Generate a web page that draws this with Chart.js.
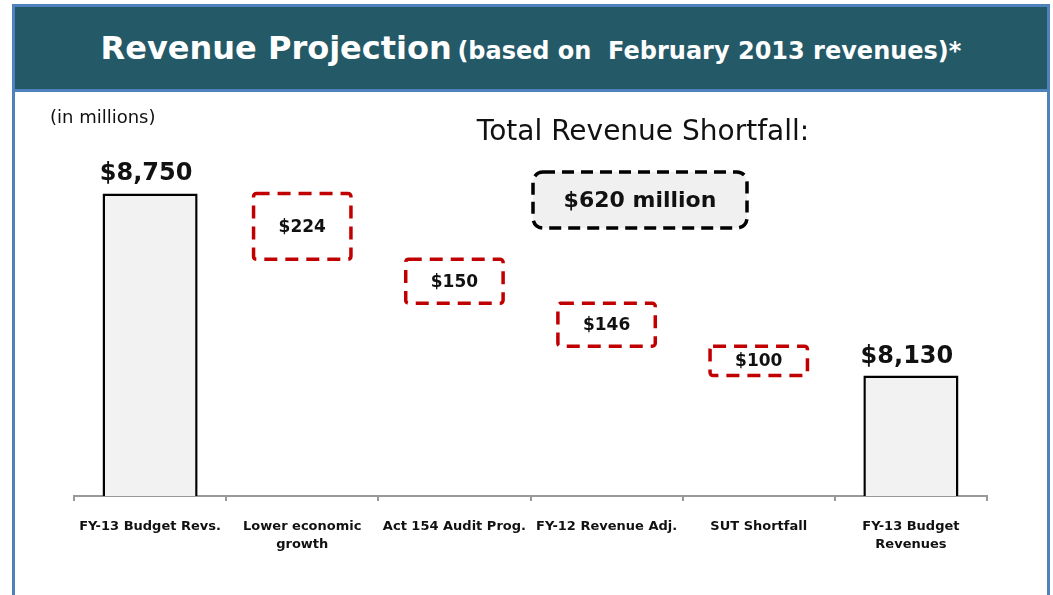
<!DOCTYPE html>
<html>
<head>
<meta charset="utf-8">
<script src="https://cdn.jsdelivr.net/npm/chart.js@4"></script>
<style>
  html, body { margin: 0; padding: 0; background: #fff; }
  body { width: 1053px; height: 595px; position: relative; overflow: hidden; font-family: 'DejaVu Sans', sans-serif; }
  .frame { position: absolute; left: 12px; top: 4px; width: 1032px; height: 600px; border: 3px solid #4F81BD; border-bottom: none; }
  .titlebar { position: absolute; left: 15px; top: 7px; width: 1032px; height: 82px; background: #245A67; border-bottom: 3px solid #4F81BD;
              color: #fff; font-weight: bold; text-align: center; line-height: 82px; white-space: nowrap; }
  .titlebar .big { font-size: 32px; }
  .titlebar .small { font-size: 24px; }
  .units { position: absolute; left: 50px; top: 106px; font-size: 18px; color: #111; }
  .shortfall { position: absolute; left: 393px; width: 500px; top: 114px; font-size: 28px; text-align: center; color: #111; }
  .totalbox { position: absolute; left: 531px; top: 170px; width: 218px; height: 60px; }
  .totalbox svg { position: absolute; left: 0; top: 0; }
  .totalbox span { position: absolute; left: 0; top: 0; width: 218px; line-height: 60px; text-align: center;
                   font-size: 22px; font-weight: bold; color: #111; }
  #chart { position: absolute; left: 0; top: 0; }
</style>
</head>
<body>
<div class="frame"></div>
<canvas id="chart" width="1053" height="595"></canvas>
<div class="titlebar"><span class="big">Revenue Projection</span> <span class="small">(based on&nbsp; February 2013 revenues)*</span></div>
<div class="units">(in millions)</div>
<div class="shortfall">Total Revenue Shortfall:</div>
<div class="totalbox">
  <svg width="218" height="60"><rect x="2" y="2" width="214" height="56" rx="10" ry="10" fill="#F0F0F0" stroke="#000" stroke-width="3.5" stroke-dasharray="12 7"/></svg>
  <span>$620 million</span>
</div>
<script>
// categories and values (in millions)
const categories = [
    'FY-13 Budget Revs.',
    ['Lower economic', 'growth'],
    'Act 154 Audit Prog.',
    'FY-12 Revenue Adj.',
    'SUT Shortfall',
    ['FY-13 Budget', 'Revenues']
];
const startTotal = 8750;
const reductions = [224, 150, 146, 100];
const endTotal = 8130;
const yMin = 7720;
const yMax = 9000;

// build the waterfall from the values
const totalsData = [startTotal, null, null, null, null, endTotal];
const stepsData = [null];
let level = startTotal;
reductions.forEach(v => {
    stepsData.push([level - v, level]);
    level -= v;
});
stepsData.push(null);

const money = v => '$' + v.toLocaleString('en-US');

// dashed boxes + labels
const waterfallPlugin = {
    id: 'waterfall',
    afterDatasetsDraw(chart) {
        const ctx = chart.ctx;
        ctx.save();
        // totals labels
        chart.getDatasetMeta(0).data.forEach((bar, i) => {
            if (totalsData[i] == null) return;
            ctx.fillStyle = '#111';
            ctx.font = "bold 24px 'DejaVu Sans'";
            ctx.textAlign = 'center';
            ctx.textBaseline = 'alphabetic';
            ctx.fillText(money(totalsData[i]), bar.x - 4, bar.y - 13);
        });
        // reduction boxes
        chart.getDatasetMeta(1).data.forEach((bar, i) => {
            if (stepsData[i] == null) return;
            const w = bar.width;
            const left = bar.x - w / 2;
            const top = Math.min(bar.y, bar.base);
            const h = Math.abs(bar.base - bar.y);
            ctx.strokeStyle = '#C00000';
            ctx.lineWidth = 3.5;
            ctx.setLineDash([13, 8]);
            ctx.beginPath();
            ctx.roundRect(left, top, w, h, 3);
            ctx.stroke();
            ctx.setLineDash([]);
            ctx.fillStyle = '#111';
            ctx.font = "bold 17px 'DejaVu Sans'";
            ctx.textAlign = 'center';
            ctx.textBaseline = 'middle';
            ctx.fillText(money(stepsData[i][1] - stepsData[i][0]), bar.x, top + h / 2 + 1);
        });
        ctx.restore();
    }
};

const chart = new Chart(document.getElementById('chart').getContext('2d'), {
    type: 'bar',
    data: {
        labels: categories,
        datasets: [{
            data: totalsData,
            backgroundColor: '#F2F2F2',
            borderColor: '#000',
            borderWidth: 2.5,
            grouped: false,
            barPercentage: 0.625,
            categoryPercentage: 1
        }, {
            data: stepsData,
            backgroundColor: 'rgba(0,0,0,0)',
            borderWidth: 0,
            grouped: false,
            barPercentage: 0.64,
            categoryPercentage: 1
        }]
    },
    options: {
        responsive: false,
        animation: false,
        layout: { padding: { left: 74, right: 66, top: 120, bottom: 0 } },
        plugins: {
            legend: { display: false },
            tooltip: { enabled: false }
        },
        scales: {
            y: { display: false, min: yMin, max: yMax },
            x: {
                grid: { display: true, drawOnChartArea: false, offset: true, tickLength: 5, color: '#999', lineWidth: 2 },
                border: { display: true, color: '#999', width: 2 },
                ticks: {
                    color: '#111',
                    font: { family: 'DejaVu Sans', weight: 'bold', size: 13, lineHeight: 1.35 },
                    padding: 17,
                    maxRotation: 0,
                    autoSkip: false
                },
                afterFit(scale) { scale.height = 99; }
            }
        }
    },
    plugins: [waterfallPlugin]
});
</script>
</body>
</html>
